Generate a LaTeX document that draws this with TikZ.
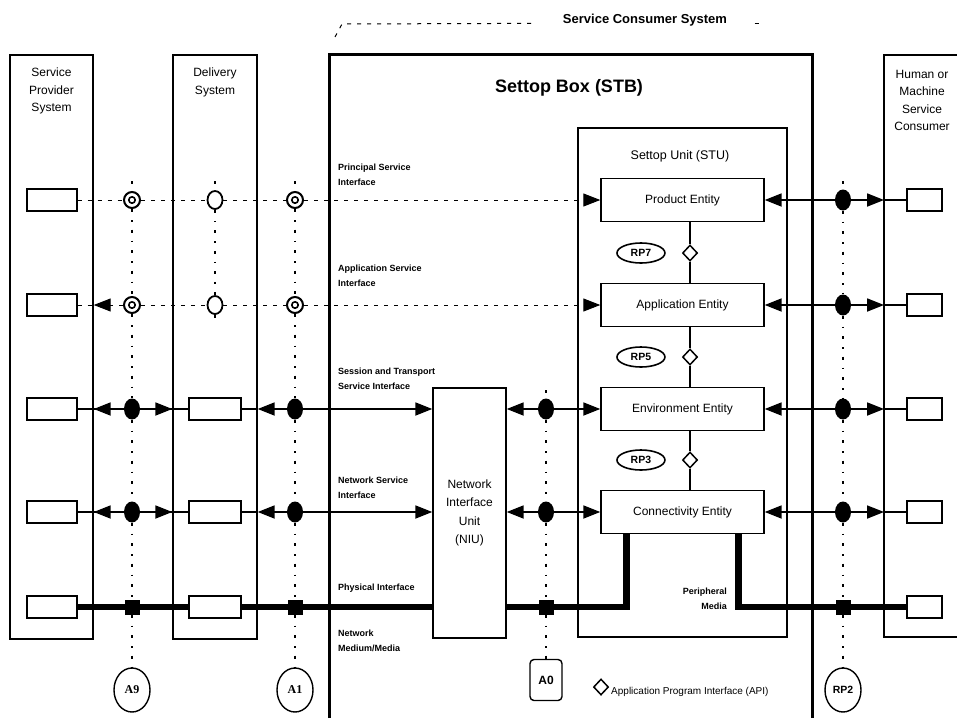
\documentclass[tikz,border=0pt]{standalone}
\usepackage{fontspec}
\setmainfont{Liberation Sans}
\newfontfamily\romanlbl{Liberation Serif}
\usetikzlibrary{positioning,arrows.meta,shapes.geometric}

\begin{document}
\begin{tikzpicture}[x=1pt,y=-1pt,
  >={Triangle[length=17pt,width=13pt]},
  colbox/.style={draw,line width=1.4pt,inner sep=0pt},
  coltext/.style={anchor=north,align=center,inner sep=0pt,font=\fontsize{12}{17.5}\selectfont},
  entity/.style={draw,line width=1.4pt,minimum width=163pt,minimum height=43pt,font=\fontsize{12}{13}\selectfont},
  endbox/.style={draw,line width=1.4pt,minimum height=22pt,inner sep=0pt},
  iflabel/.style={align=left,inner sep=0pt,font=\bfseries\fontsize{9}{15}\selectfont},
  bull/.style={circle,draw,line width=2pt,fill=white,minimum size=16pt,inner sep=0pt,
    path picture={\draw[line width=1.6pt] (path picture bounding box.center) circle (3.2pt);}},
  ring/.style={ellipse,draw,line width=1.8pt,fill=white,minimum width=15pt,minimum height=18pt,inner sep=0pt},
  blob/.style={ellipse,fill=black,minimum width=16pt,minimum height=21pt,inner sep=0pt},
  blk/.style={fill=black,minimum size=15pt,inner sep=0pt},
  refdots/.style={line width=2.5pt,dash pattern=on 3pt off 8pt on 1.5pt off 8pt},
  svcdash/.style={line width=1pt,dash pattern=on 4pt off 6pt},
  svcline/.style={line width=1.8pt},
  medium/.style={line width=6.5pt},
  api/.style={diamond,draw,line width=1.5pt,fill=white,minimum width=15pt,minimum height=16pt,inner sep=0pt},
  rpmark/.style={ellipse,draw,line width=1.6pt,minimum width=48pt,minimum height=20pt,inner sep=0pt,font=\bfseries\fontsize{10.5}{10.5}\selectfont},
  refpt/.style={ellipse,draw,line width=1.4pt,minimum width=36pt,minimum height=44pt,inner sep=0pt}]
\useasboundingbox (0,0) rectangle (957,718);

% systems
\node[colbox,minimum width=83pt,minimum height=584pt] (sps) at (51.5,347) {};
\node[coltext] (spsT) at (51.5,68) {Service\\Provider\\System};
\node[colbox,minimum width=84pt,minimum height=584pt] (ds) at (215,347) {};
\node[coltext] (dsT) at (215,68) {Delivery\\System};
\coordinate (hmcW) at (884,55);
\draw[line width=1.4pt] (957,55) -- (hmcW) -- (884,637) -- (957,637);
\node[coltext] (hmcT) at (922,70) {Human or\\Machine\\Service\\Consumer};

\node[font=\bfseries\fontsize{13}{13}\selectfont] (scsT) at (645,20) {Service Consumer System};
\draw[svcdash] (335,37) -- (342,24) -- ([xshift=-24pt]scsT.base west);
\draw[svcdash] ([xshift=24pt]scsT.base east) -- ++(8,0);

\draw[line width=3pt] (329,718) |- (812,54) -- (812,718);
\node[font=\bfseries\fontsize{18}{20}\selectfont] (stbT) at (569,88) {Settop Box (STB)};

\node[colbox,minimum width=209pt,minimum height=509pt] (stu) at (682.5,382.5) {};
\node[font=\fontsize{12.5}{14}\selectfont] (stuT) at (680,156) {Settop Unit (STU)};
\node[entity] (pe) at (682.5,200) {Product Entity};
\node[entity] (ae) at (682.5,305) {Application Entity};
\node[entity] (ee) at (682.5,409) {Environment Entity};
\node[entity] (ce) at (682.5,512) {Connectivity Entity};

\node[api] (api7) at (690,253) {};
\node[api] (api5) at (690,357) {};
\node[api] (api3) at (690,460) {};
\node[rpmark,left=16pt of api7] (rp7) {RP7};
\node[rpmark,left=16pt of api5] (rp5) {RP5};
\node[rpmark,left=16pt of api3] (rp3) {RP3};
\draw[line width=1.3pt] (pe.south -| api7) -- (api7) -- (ae.north -| api7);
\draw[line width=1.3pt] (ae.south -| api5) -- (api5) -- (ee.north -| api5);
\draw[line width=1.3pt] (ee.south -| api3) -- (api3) -- (ce.north -| api3);

\node[colbox,minimum width=73pt,minimum height=250pt,align=center,font=\fontsize{12}{18.5}\selectfont] (niu) at (469.5,513) {Network\\Interface\\Unit\\(NIU)};

% end boxes
\node[endbox,minimum width=50pt] (l1) at (52,200) {};
\node[endbox,minimum width=50pt] (l2) at (52,305) {};
\node[endbox,minimum width=50pt] (l3) at (52,409) {};
\node[endbox,minimum width=50pt] (l4) at (52,512) {};
\node[endbox,minimum width=50pt] (l5) at (52,607) {};
\node[endbox,minimum width=52pt] (dl3) at (215,409) {};
\node[endbox,minimum width=52pt] (dl4) at (215,512) {};
\node[endbox,minimum width=52pt] (dl5) at (215,607) {};
\node[endbox,minimum width=35pt] (r1) at (924.5,200) {};
\node[endbox,minimum width=35pt] (r2) at (924.5,305) {};
\node[endbox,minimum width=35pt] (r3) at (924.5,409) {};
\node[endbox,minimum width=35pt] (r4) at (924.5,512) {};
\node[endbox,minimum width=35pt] (r5) at (924.5,607) {};

% reference points
\node[bull] (m1a) at (132,200) {};
\node[ring] (m1m) at (215,200) {};
\node[bull] (m1b) at (295,200) {};
\node[blob] (m1d) at (843,200) {};
\node[bull] (m2a) at (132,305) {};
\node[ring] (m2m) at (215,305) {};
\node[bull] (m2b) at (295,305) {};
\node[blob] (m2d) at (843,305) {};
\node[blob] (m3a) at (132,409) {};
\node[blob] (m3b) at (295,409) {};
\node[blob] (m3c) at (546,409) {};
\node[blob] (m3d) at (843,409) {};
\node[blob] (m4a) at (132,512) {};
\node[blob] (m4b) at (295,512) {};
\node[blob] (m4c) at (546,512) {};
\node[blob] (m4d) at (843,512) {};
\node[blk] (m5a) at (132,607) {};
\node[blk] (m5b) at (295,607) {};
\node[blk] (m5c) at (546,607) {};
\node[blk] (m5d) at (843,607) {};

\node[refpt,font=\romanlbl\bfseries\fontsize{12}{12}\selectfont] (a9) at (132,690) {A9};
\node[refpt,font=\romanlbl\bfseries\fontsize{12}{12}\selectfont] (a1) at (295,690) {A1};
\node[draw,line width=1.4pt,rounded corners=4pt,minimum width=32pt,minimum height=41pt,font=\bfseries\fontsize{12}{12}\selectfont] (a0) at (546,680) {A0};
\node[refpt,font=\bfseries\fontsize{10.5}{10.5}\selectfont] (rp2) at (843,690) {RP2};

\coordinate (a9top) at (132,181);
\coordinate (dstop) at (215,181);
\coordinate (dsbot) at (215,322);
\coordinate (a1top) at (295,181);
\coordinate (a0top) at (546,390);
\coordinate (rp2top) at (843,181);
\draw[refdots] (a9top) -- (m1a) -- (m2a) -- (m3a) -- (m4a) -- (m5a) -- (a9);
\draw[refdots] (dstop) -- (m1m) -- (m2m) -- (dsbot);
\draw[refdots] (a1top) -- (m1b) -- (m2b) -- (m3b) -- (m4b) -- (m5b) -- (a1);
\draw[refdots] (a0top) -- (m3c) -- (m4c) -- (m5c) -- (a0);
\draw[refdots] (rp2top) -- (m1d) -- (m2d) -- (m3d) -- (m4d) -- (m5d) -- (rp2);

% service interfaces
\draw[svcdash,->] (l1) -- (m1a) -- (m1m) -- (m1b) -- (pe.west);
\draw[svcline,<->] (pe.east) -- (m1d -| hmcW);
\draw[svcline] (m1d -| hmcW) -- (r1);

\draw[svcdash] (l2) -- (m2a -| sps.east);
\draw[svcdash,->] (m2a) -- (m2a -| sps.east);
\draw[svcdash,->] (m2a) -- (m2m) -- (m2b) -- (ae.west);
\draw[svcline,<->] (ae.east) -- (m2d -| hmcW);
\draw[svcline] (m2d -| hmcW) -- (r2);

\draw[svcline] (l3) -- (dl3);
\draw[svcline,<->] (m3a -| sps.east) -- (m3a -| ds.west);
\draw[svcline] (dl3) -- (m3b -| ds.east);
\draw[svcline,<->] (m3b -| ds.east) -- (niu.west |- m3b);
\draw[svcline,<->] (niu.east |- m3c) -- (ee.west);
\draw[svcline,<->] (ee.east) -- (m3d -| hmcW);
\draw[svcline] (m3d -| hmcW) -- (r3);

\draw[svcline] (l4) -- (dl4);
\draw[svcline,<->] (m4a -| sps.east) -- (m4a -| ds.west);
\draw[svcline] (dl4) -- (m4b -| ds.east);
\draw[svcline,<->] (m4b -| ds.east) -- (niu.west |- m4b);
\draw[svcline,<->] (niu.east |- m4c) -- (ce.west);
\draw[svcline,<->] (ce.east) -- (m4d -| hmcW);
\draw[svcline] (m4d -| hmcW) -- (r4);

\draw[medium] (l5) -- (dl5);
\draw[medium] (dl5) -- (niu.west |- m5b);
\draw[medium] (niu.east |- m5c) -| ([xshift=-56pt]ce.south);
\draw[medium] ([xshift=56pt]ce.south) |- (r5);

% labels
\node[iflabel,anchor=north west] (psiL) at (338,164) {Principal Service\\Interface};
\node[iflabel,anchor=north west] (asiL) at (338,265) {Application Service\\Interface};
\node[iflabel,anchor=north west] (stiL) at (338,368) {Session and Transport\\Service Interface};
\node[iflabel,anchor=north west] (nsiL) at (338,477) {Network Service\\Interface};
\node[iflabel,anchor=north west] (phiL) at (338,584) {Physical Interface};
\node[iflabel,anchor=north west] (nmmL) at (338,630) {Network\\Medium/Media};
\node[iflabel,anchor=north east,align=right] (pmL) at (727,588) {Peripheral\\Media};

\node[api] (apiK) at (601,687) {};
\node[anchor=west,inner sep=0pt,font=\fontsize{10}{10}\selectfont] (apiT) at (611,692) {Application Program Interface (API)};
\end{tikzpicture}
\end{document}
